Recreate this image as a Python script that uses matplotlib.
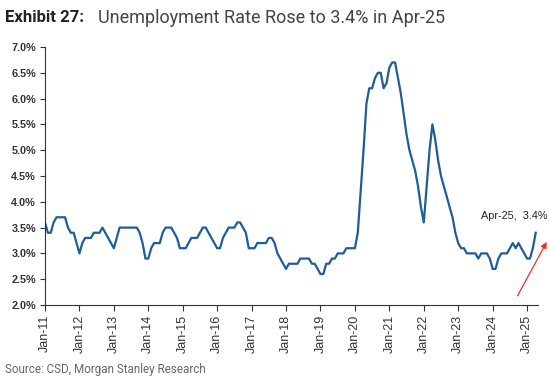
import matplotlib
matplotlib.use("Agg")
import matplotlib.pyplot as plt
import numpy as np

# monthly unemployment rate (%), Jan-11 .. Apr-25
rate_2011 = [3.6, 3.4, 3.4, 3.6, 3.7, 3.7, 3.7, 3.7, 3.5, 3.4, 3.4, 3.2]
rate_2012 = [3.0, 3.2, 3.3, 3.3, 3.3, 3.4, 3.4, 3.4, 3.5, 3.4, 3.3, 3.2]
rate_2013 = [3.1, 3.3, 3.5, 3.5, 3.5, 3.5, 3.5, 3.5, 3.5, 3.4, 3.2, 2.9]
rate_2014 = [2.9, 3.1, 3.2, 3.2, 3.2, 3.4, 3.5, 3.5, 3.5, 3.4, 3.3, 3.1]
rate_2015 = [3.1, 3.1, 3.2, 3.3, 3.3, 3.3, 3.4, 3.5, 3.5, 3.4, 3.3, 3.2]
rate_2016 = [3.1, 3.1, 3.3, 3.4, 3.5, 3.5, 3.5, 3.6, 3.6, 3.5, 3.4, 3.1]
rate_2017 = [3.1, 3.1, 3.2, 3.2, 3.2, 3.2, 3.3, 3.3, 3.2, 3.0, 2.9, 2.8]
rate_2018 = [2.7, 2.8, 2.8, 2.8, 2.8, 2.9, 2.9, 2.9, 2.9, 2.8, 2.8, 2.7]
rate_2019 = [2.6, 2.6, 2.8, 2.8, 2.9, 2.9, 3.0, 3.0, 3.0, 3.1, 3.1, 3.1]
rate_2020 = [3.1, 3.4, 4.2, 5.0, 5.9, 6.2, 6.2, 6.4, 6.5, 6.5, 6.2, 6.3]
rate_2021 = [6.6, 6.7, 6.7, 6.4, 6.1, 5.7, 5.3, 5.0, 4.8, 4.6, 4.3, 3.9]
rate_2022 = [3.6, 4.3, 5.0, 5.5, 5.2, 4.8, 4.5, 4.3, 4.1, 3.9, 3.7, 3.4]
rate_2023 = [3.2, 3.1, 3.1, 3.0, 3.0, 3.0, 3.0, 2.9, 3.0, 3.0, 3.0, 2.9]
rate_2024 = [2.7, 2.7, 2.9, 3.0, 3.0, 3.0, 3.1, 3.2, 3.1, 3.2, 3.1, 3.0]
rate_2025 = [2.9, 2.9, 3.1, 3.4]

years = list(range(2011, 2026))
tick_labels = ["Jan-%02d" % (y % 100) for y in years]
y_ticks = [2.0, 2.5, 3.0, 3.5, 4.0, 4.5, 5.0, 5.5, 6.0, 6.5, 7.0]

rate = (rate_2011 + rate_2012 + rate_2013 + rate_2014 + rate_2015 + rate_2016
        + rate_2017 + rate_2018 + rate_2019 + rate_2020 + rate_2021 + rate_2022
        + rate_2023 + rate_2024 + rate_2025)
months = np.arange(len(rate))

fig = plt.figure(figsize=(5.5, 3.78), dpi=100)
ax = fig.add_axes([45 / 550, 1 - 305 / 378, 493 / 550, 258 / 378])

ax.plot(months, rate, color="#1f5d99", lw=1.6)

ax.set_xlim(0, 171.8)
ax.set_ylim(2.0, 7.0)
ax.set_yticks(y_ticks)
ax.set_yticklabels(["%.1f%%" % v for v in y_ticks])
ax.set_xticks([12 * i for i in range(len(years))])
ax.set_xticklabels(tick_labels, rotation=90)

narrow = ["Liberation Sans Narrow", "Liberation Sans"]
for lab in ax.get_yticklabels():
    lab.set_fontproperties(dict(family=narrow, size=7.8, weight="bold"))
    lab.set_color("#333333")
for lab in ax.get_xticklabels():
    lab.set_fontproperties(dict(family=narrow, size=9))
    lab.set_color("#333333")

for s in ["top", "right"]:
    ax.spines[s].set_visible(False)
ax.spines["left"].set_color("#333333")
ax.spines["bottom"].set_color("#333333")
ax.spines["left"].set_linewidth(0.8)
ax.spines["bottom"].set_linewidth(0.8)
ax.tick_params(axis="y", direction="out", length=3.5, width=0.8, color="#333333", pad=3)
ax.tick_params(axis="x", direction="out", length=4, width=0.8, color="#333333", pad=3)

# callout for the latest reading
ax.text(163.5, 3.72, "Apr-25,  3.4%", ha="center", va="center", fontsize=7.8,
        family=narrow, color="#222222")
ax.annotate("", xy=(175.3, 3.27), xytext=(164.2, 2.13),
            arrowprops=dict(arrowstyle="-|>", color="#e8302a", lw=0.9,
                            mutation_scale=9),
            annotation_clip=False)

# title
fig.text(5 / 550, 1 - 18 / 378, "Exhibit 27:", fontsize=12, weight="bold",
         family="Roboto", color="#222222", va="center")
fig.text(98 / 550, 1 - 18 / 378, "Unemployment Rate Rose to 3.4% in Apr-25",
         fontsize=13, family="Roboto", color="#444444", va="center")

fig.text(5 / 550, 1 - 369 / 378, "Source: CSD, Morgan Stanley Research",
         fontsize=8.4, family="Roboto", color="#666666", va="center")

fig.savefig("out.png", dpi=100)
